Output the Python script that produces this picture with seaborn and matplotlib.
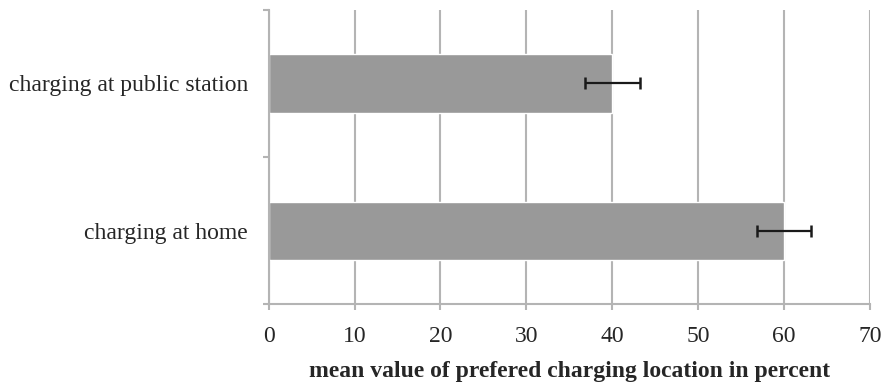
import matplotlib
matplotlib.use("Agg")
import matplotlib.pyplot as plt
import seaborn as sns
import pandas as pd
from matplotlib.ticker import FixedLocator

# Preferred charging location: mean share in percent with its error
locations = ["charging at public station", "charging at home"]
mean_percent = [40, 60]
error_percent = [3.2, 3.2]
x_ticks = [0, 10, 20, 30, 40, 50, 60, 70]

df = pd.DataFrame({"location": locations, "mean": mean_percent, "err": error_percent})

sns.set_style("white")
plt.rcParams["font.family"] = ["Liberation Serif", "DejaVu Serif"]

fig = plt.figure(figsize=(8.84, 3.83), dpi=100)
ax = fig.add_axes([0.304, 0.206, 0.680, 0.768])

grid_col = "#b4b4b4"
ax.set_axisbelow(True)
ax.xaxis.grid(True, color=grid_col, linewidth=1.5)
ax.yaxis.grid(False)

sns.barplot(data=df, x="mean", y="location", orient="h", color="#999999",
            saturation=1, width=0.395, errorbar=None, ax=ax, zorder=2)
ax.errorbar(df["mean"], range(len(df)), xerr=df["err"], fmt="none",
            ecolor="#1a1a1a", elinewidth=1.6, capsize=4.3, capthick=1.8, zorder=3)

ax.set_xlim(0, 70)
ax.set_ylim(1.5, -0.5)
ax.set_xticks(x_ticks)
ax.set_xticklabels([str(v) for v in x_ticks], fontsize=17)
ax.tick_params(axis="x", bottom=True, direction="out", length=4, width=1.5,
               color=grid_col, pad=12)
ax.tick_params(axis="y", which="major", left=True, length=0, pad=15, labelsize=17)
ax.yaxis.set_minor_locator(FixedLocator([-0.5, 0.5, 1.5]))
ax.tick_params(axis="y", which="minor", left=True, direction="out", length=4,
               width=1.5, color=grid_col)

for side in ("top", "right"):
    ax.spines[side].set_visible(False)
for side in ("left", "bottom"):
    ax.spines[side].set_color(grid_col)
    ax.spines[side].set_linewidth(1.5)

ax.set_ylabel("")
ax.set_xlabel("mean value of prefered charging location in percent",
              fontsize=17, fontweight="bold", labelpad=10)

fig.savefig("out.png", dpi=100)
